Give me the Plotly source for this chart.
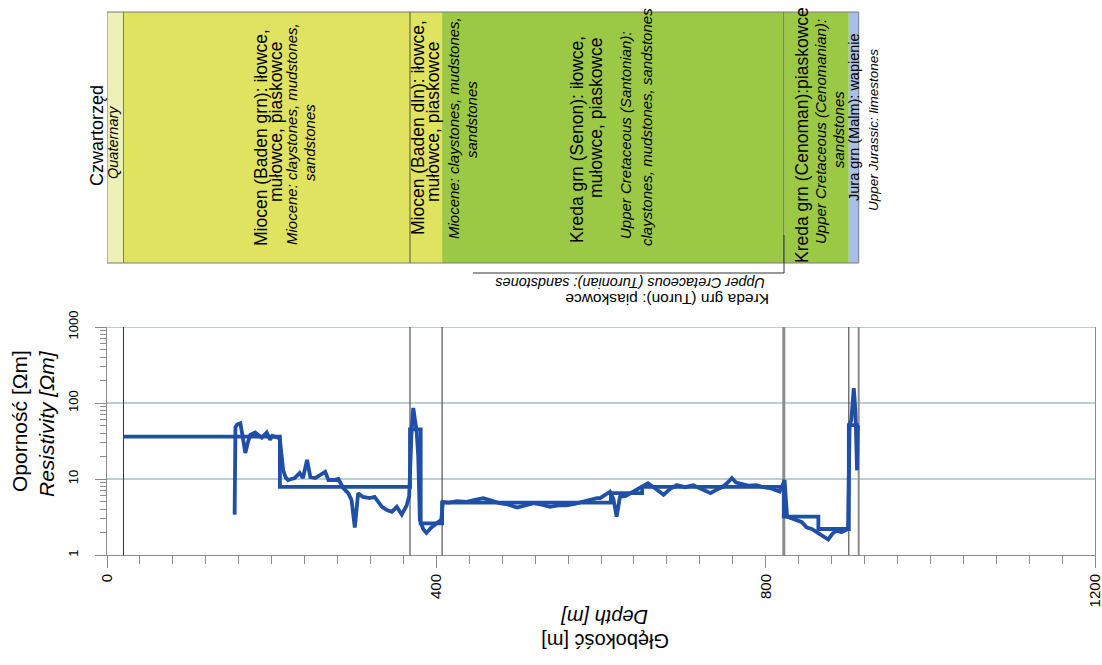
import plotly.graph_objects as go

# ---------------- data ----------------
# stratigraphic layers (depth in m)
layer_top = [0, 20, 368, 407, 821, 823, 901]
layer_bottom = [20, 368, 407, 821, 823, 901, 913]
layer_color = ["#eef0b6", "#dfe360", "#dfe360", "#9cc945", "#9cc945", "#9cc945", "#a9c0e4"]

# boundary lines drawn through the resistivity panel
bound_depth = [20, 368, 407, 822, 901, 913]
bound_color = ["#333333", "#333333", "#333333", "#8c8c8c", "#333333", "#8c8c8c"]
bound_width = [1, 1, 1, 3, 1, 2]

# interpreted (block) resistivity model
model_depth = [20, 210, 368, 381, 407, 612, 650, 822, 864, 901, 913]
model_res = [36, 7.9, 45, 2.6, 4.9, 6.5, 7.9, 3.2, 2.2, 51, 51]

# measured resistivity log
log_depth = [155, 156, 158, 162, 165, 168, 171, 174, 180, 185, 188, 191, 194, 198, 201, 204,
             208, 210, 214, 217, 220, 224, 228, 234, 238, 243, 247, 253, 259, 265, 269, 275,
             281, 287, 293, 297, 301, 305, 311, 319, 325, 330, 334, 340, 346, 352, 358, 364,
             367, 370, 372, 374, 376, 378, 380, 384, 388, 394, 400, 406, 408, 415, 425, 437,
             447, 457, 467, 477, 488, 498, 508, 518, 528, 538, 548, 558, 568, 578, 588, 595,
             599, 605, 611, 615, 619, 623, 630, 639, 648, 657, 666, 676, 684, 692, 702, 712,
             722, 733, 740, 748, 754, 759, 764, 769, 779, 789, 797, 805, 811, 817, 820, 823,
             826, 832, 838, 844, 850, 856, 862, 869, 876, 881, 886, 892, 898, 900, 902, 904,
             907, 909, 911, 912]
log_res = [3.4, 48, 52, 54, 35, 22, 30, 38, 41, 37, 35, 38, 41, 33, 37, 36,
           35, 33, 13, 10.5, 9.7, 10, 10.3, 12, 10.3, 17.8, 10.6, 10.3, 11.2, 12.4, 9.7, 9.7,
           10, 7.6, 6.5, 5.3, 2.3, 6.5, 5.8, 5.6, 5.8, 5.0, 4.3, 3.9, 3.7, 4.3, 3.4, 4.5,
           6, 44, 86, 60, 44, 20, 2.9, 2.2, 1.95, 2.3, 2.6, 2.9, 5.0, 4.9, 5.1, 5.0,
           5.3, 5.6, 5.2, 4.8, 4.6, 4.2, 4.5, 4.8, 4.6, 4.3, 4.5, 4.5, 4.7, 5.0, 5.4, 5.6,
           5.6, 6.2, 6.8, 5.5, 3.2, 5.8, 6.0, 6.8, 7.8, 8.8, 7.5, 6.2, 7.4, 8.3, 7.8, 8.3,
           7.4, 6.5, 7.2, 7.9, 9, 10.3, 9, 8.8, 8.2, 8.3, 7.8, 7.6, 7.2, 6.8, 8, 9.7,
           3.2, 3.0, 2.9, 2.7, 2.3, 2.2, 2.0, 1.8, 1.6, 1.9, 2.1, 2.0, 2.1, 2.2, 51, 60,
           157, 80, 13, 51]

x_tickvals = [0, 400, 800, 1200]
y_tickvals = [1, 10, 100, 1000]
y_ticktext = ["1", "10", "100", "1000"]
y_minor_vals = [d * m for d in (1, 10, 100) for m in range(2, 10)]

# ---------------- layout helpers (pixel -> paper) ----------------
W, H = 1102, 665
PX_L, PX_R, PX_T, PX_B = 107, 1095, 12, 555
PLOT_TOP = 327


def xp(px):
    return (px - PX_L) / (PX_R - PX_L)


def yp(py):
    return (PX_B - py) / (PX_B - PX_T)


FONT = "Arial, Liberation Sans, sans-serif"
BLUE = "#1f4fa6"
GRID = "#6aa5a8"
AXIS = "#8a8a8a"

fig = go.Figure()
fig.add_trace(go.Scatter(x=model_depth, y=model_res, mode="lines", line_shape="hv",
                         line=dict(color=BLUE, width=3.8), showlegend=False))
fig.add_trace(go.Scatter(x=log_depth, y=log_res, mode="lines",
                         line=dict(color=BLUE, width=3.8), showlegend=False))

shapes = []
band_y0, band_y1 = yp(263), yp(12)
for t, b, c in zip(layer_top, layer_bottom, layer_color):
    shapes.append(dict(type="rect", xref="x", yref="paper", x0=t, x1=b, y0=band_y0, y1=band_y1,
                       fillcolor=c, line=dict(width=0), layer="below"))
# band outline and internal boundaries
shapes.append(dict(type="rect", xref="x", yref="paper", x0=layer_top[0], x1=layer_bottom[-1],
                   y0=band_y0, y1=band_y1, line=dict(color="#7a7a7a", width=1)))
for d, c in zip([20, 368, 822], ["#7a7a7a", "#555555", "#5f7f3f"]):
    shapes.append(dict(type="line", xref="x", yref="paper", x0=d, x1=d, y0=band_y0, y1=band_y1,
                       line=dict(color=c, width=1)))
# horizontal grid lines of the resistivity panel (teal)
for v in y_tickvals[1:]:
    shapes.append(dict(type="line", xref="x domain", yref="y", x0=0, x1=1, y0=v, y1=v,
                       line=dict(color=GRID, width=1), layer="below"))
# lines through the resistivity panel
for d, c, w in zip(bound_depth, bound_color, bound_width):
    shapes.append(dict(type="line", xref="x", yref="y domain", x0=d, x1=d, y0=0, y1=1,
                       line=dict(color=c, width=w), layer="below"))
# Turon bracket
shapes.append(dict(type="line", xref="paper", yref="paper", x0=xp(473), x1=xp(784),
                   y0=yp(273), y1=yp(273), line=dict(color="#333333", width=1)))
shapes.append(dict(type="line", xref="paper", yref="paper", x0=xp(784), x1=xp(784),
                   y0=yp(235), y1=yp(273), line=dict(color="#333333", width=1)))

band_text = [
    (97, 136, "Czwartorzęd", 18, False),
    (113, 143, "Quaternary", 14.5, True),
    (261, 138, "Miocen (Baden grn): iłowce,", 17.5, False),
    (276, 122, "mułowce, piaskowce", 17.5, False),
    (291, 134, "Miocene: claystones, mudstones,", 15, True),
    (309, 143, "sandstones", 15, True),
    (418, 128, "Miocen (Baden dln): iłowce,", 17.5, False),
    (433, 122, "mułowce, piaskowce", 17.5, False),
    (453, 128, "Miocene: claystones, mudstones,", 15, True),
    (471, 120, "sandstones", 15, True),
    (577, 140, "Kreda grn (Senon): iłowce,", 17.5, False),
    (596, 118, "mułowce, piaskowce", 17.5, False),
    (625, 135, "Upper Cretaceous (Santonian):", 15, True),
    (646, 127, "claystones, mudstones, sandstones", 15, True),
    (802, 135, "Kreda grn (Cenoman):piaskowce", 17.5, False),
    (820, 132, "Upper Cretaceous (Cenomanian):", 15, True),
    (838, 130, "sandstones", 15, True),
    (854, 117, "Jura grn (Malm): wapienie", 14.5, False),
    (873, 130, "Upper Jurassic: limestones", 13.5, True),
]

annotations = []
for x, y, t, s, it in band_text:
    annotations.append(dict(xref="paper", yref="paper", x=xp(x), y=yp(y),
                            text=f"<i>{t}</i>" if it else t, textangle=-90, showarrow=False,
                            xanchor="center", yanchor="middle",
                            font=dict(family=FONT, size=s, color="black")))

other_text = [
    (667, 300, "Kreda grn (Turon): piaskowce", 15.5, False, 180),
    (630, 283, "Upper Cretaceous (Turonian): sandstones", 14.5, True, 180),
    (19, 421, "Oporność [Ωm]", 21, False, -90),
    (46, 424, "Resistivity [Ωm]", 21, True, -90),
    (605, 641, "Głębokość [m]", 20, False, 180),
    (605, 617, "Depth [m]", 20, True, 180),
]
for x, y, t, s, it, ang in other_text:
    annotations.append(dict(xref="paper", yref="paper", x=xp(x), y=yp(y),
                            text=f"<i>{t}</i>" if it else t, textangle=ang, showarrow=False,
                            xanchor="center", yanchor="middle",
                            font=dict(family=FONT, size=s, color="black")))

fig.update_layout(
    width=W, height=H,
    margin=dict(l=PX_L, r=W - PX_R, t=PX_T, b=H - PX_B, autoexpand=False),
    paper_bgcolor="white", plot_bgcolor="white",
    font=dict(family=FONT, color="black"),
    shapes=shapes, annotations=annotations,
    xaxis=dict(range=[0, 1200], tickvals=x_tickvals, tickangle=-90, ticks="outside",
               ticklen=12, tickcolor=AXIS, showgrid=False, zeroline=False, showline=True,
               linecolor=AXIS, tickfont=dict(size=15), automargin=False,
               ticklabeloverflow="allow",
               minor=dict(dtick=40, ticks="outside", ticklen=8, tickcolor=AXIS, showgrid=False)),
    yaxis=dict(type="log", range=[0, 3], domain=[0, yp(PLOT_TOP)], tickvals=y_tickvals,
               ticktext=y_ticktext, tickangle=-90, ticks="outside", ticklen=11, tickcolor=AXIS,
               showgrid=False, showline=True, linecolor=AXIS,
               mirror=True, tickfont=dict(size=13), ticklabelstandoff=12, automargin=False,
               minor=dict(tickmode="array", tickvals=y_minor_vals, ticks="outside", ticklen=6,
                          tickcolor=AXIS, showgrid=False)),
)

fig.write_html("out.html", config={"displayModeBar": False},
               post_script="document.body.style.margin='0';document.body.style.overflow='hidden';")
